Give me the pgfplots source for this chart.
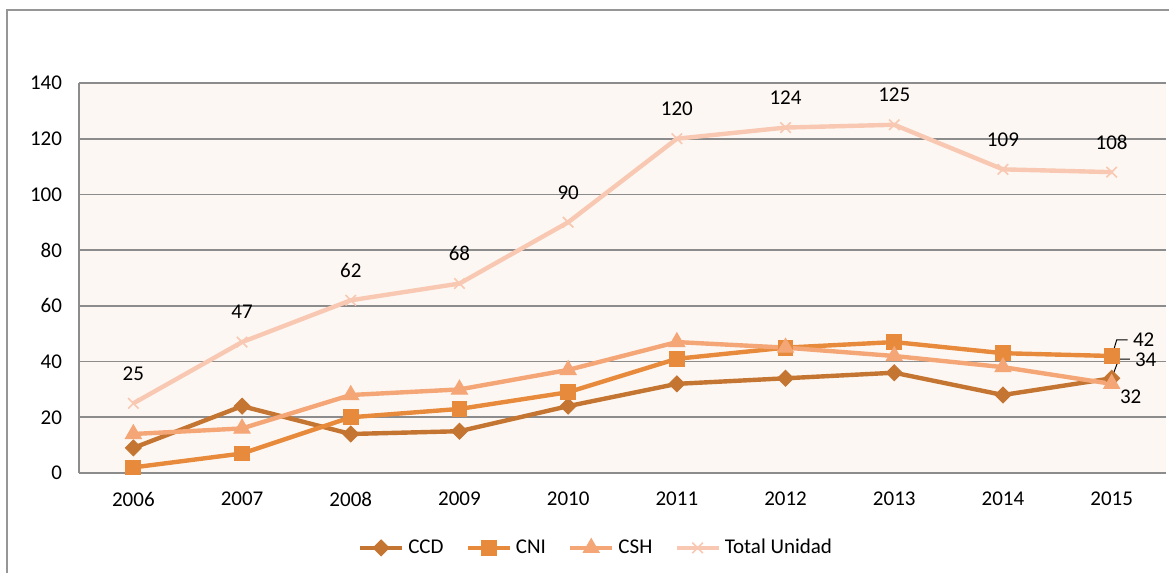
\documentclass[border=0pt]{standalone}
\usepackage{pgfplots}
\pgfplotsset{compat=1.18}
\usepackage{fontspec}
\setmainfont{Carlito}
\definecolor{ccd}{RGB}{197,117,50}
\definecolor{cni}{RGB}{232,138,60}
\definecolor{csh}{RGB}{244,166,118}
\definecolor{tot}{RGB}{248,200,178}
\definecolor{bgc}{RGB}{253,247,243}
\definecolor{gridc}{RGB}{140,140,140}
\definecolor{framec}{RGB}{150,150,150}
\begin{document}
\begin{tikzpicture}[font=\fontsize{10.5}{12.6}\selectfont]
\useasboundingbox (0,0) rectangle (584.5pt,286.5pt);
\draw[framec, line width=0.8pt] (3.5pt,0) -- (3.5pt,281.5pt) -- (584.5pt,281.5pt);
\begin{axis}[
  at={(39.5pt,50pt)}, anchor=south west,
  scale only axis, width=543.5pt, height=195pt,
  xmin=-0.5, xmax=9.5, ymin=0, ymax=140,
  ytick={0,20,40,60,80,100,120,140},
  xtick={0,1,2,3,4,5,6,7,8,9},
  xticklabels={2006,2007,2008,2009,2010,2011,2012,2013,2014,2015},
  /pgf/number format/assume math mode=true,
  major tick length=0pt,
  axis lines*=left,
  axis line style={draw=gridc, line width=0.8pt, -},
  ymajorgrids, grid style={draw=gridc, line width=0.8pt},
  axis background/.style={fill=bgc},
  yticklabel style={xshift=-5pt},
  xticklabel style={yshift=-6pt},
  clip=false,
  legend columns=4,
  legend style={at={(0.4765,-0.192)}, anchor=center, draw=none, fill=none,
    /tikz/every even column/.append style={column sep=9pt}},
  legend image code/.code={\draw[mark repeat=2,mark phase=2] plot coordinates {(0pt,0pt) (10.5pt,0pt) (21pt,0pt)};},
]
\addplot[ccd, line width=2.2pt, mark=square*, mark size=2.8pt, mark options={solid, rotate=45, fill=ccd, line width=0.5pt}]
  coordinates {(0,9) (1,24) (2,14) (3,15) (4,24) (5,32) (6,34) (7,36) (8,28) (9,34)};
\addlegendentry{CCD}
\addplot[cni, line width=2.2pt, mark=square*, mark size=3.7pt, mark options={solid, fill=cni, line width=0.5pt}]
  coordinates {(0,2) (1,7) (2,20) (3,23) (4,29) (5,41) (6,45) (7,47) (8,43) (9,42)};
\addlegendentry{CNI}
\addplot[csh, line width=2.2pt, mark=triangle*, mark size=4.6pt, mark options={solid, fill=csh, line width=0.5pt}]
  coordinates {(0,14) (1,16) (2,28) (3,30) (4,37) (5,47) (6,45) (7,42) (8,38) (9,32)};
\addlegendentry{CSH}
\addplot[tot, line width=2.2pt, mark=x, mark size=3.7pt, mark options={solid, line width=0.8pt},
  nodes near coords, every node near coord/.append style={anchor=center, yshift=15pt, text=black}]
  coordinates {(0,25) (1,47) (2,62) (3,68) (4,90) (5,120) (6,124) (7,125) (8,109) (9,108)};
\addlegendentry{Total Unidad}
\draw[black, line width=0.5pt] (axis cs:9,42) ++(0pt,-0.5pt) -- ++(2.5pt,8.5pt) -- ++(5.5pt,0pt);
\node[anchor=center] at ([xshift=16pt,yshift=8.3pt]axis cs:9,42) {42};
\draw[black, line width=0.5pt] (axis cs:9,34) ++(0pt,0pt) -- ++(3.6pt,9.6pt) -- ++(5.5pt,0pt);
\node[anchor=center] at ([xshift=17pt,yshift=9.2pt]axis cs:9,34) {34};
\node[anchor=center] at ([xshift=9.5pt,yshift=-6.5pt]axis cs:9,32) {32};
\end{axis}
\end{tikzpicture}
\end{document}
